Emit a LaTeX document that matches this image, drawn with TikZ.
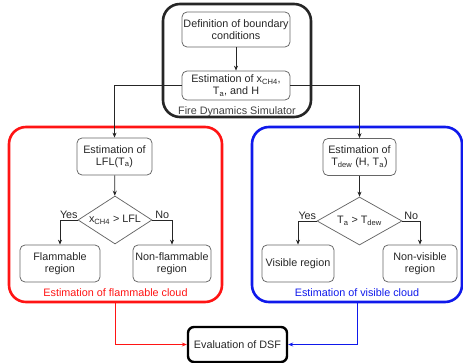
\documentclass[tikz,border=0pt]{standalone}
\usepackage{fontspec}
\setmainfont{Liberation Sans}
\usetikzlibrary{positioning,shapes.geometric,arrows.meta}
\definecolor{flamred}{RGB}{255,20,20}
\definecolor{visblue}{RGB}{15,25,235}

\begin{document}
\begin{tikzpicture}[x=1pt,y=-1pt,align=center,font=\fontsize{10.8}{12}\selectfont,
	conn/.style={-{Stealth[length=5pt,width=4pt]},line width=0.7pt,black!85},
	box/.style={rectangle,rounded corners=5pt,draw=black!60,line width=0.75pt,text=black!85,inner sep=1pt,minimum height=37pt},
	dec/.style={diamond,draw=black!60,line width=0.75pt,text=black!85,inner sep=0pt,minimum height=48pt},
	group/.style={rectangle,rounded corners=17pt,line width=2.6pt}]
\useasboundingbox (0,0) rectangle (463,363);
% groups
\node[group,draw=black!85,minimum width=148pt,minimum height=113pt](fds) at (237,60.5){};
\node[group,draw=flamred,minimum width=213pt,minimum height=175pt](flamgrp) at (115.5,214.5){};
\node[group,draw=visblue,minimum width=210pt,minimum height=175pt](visgrp) at (357,214.5){};
\node[text=black!75](fdslbl) at (237,111.5){Fire Dynamics Simulator};
\node[text=flamred](flamlbl) at (115.5,293){Estimation of flammable cloud};
\node[text=visblue](vislbl) at (357,293){Estimation of visible cloud};
% fds
\node[box,minimum width=108pt,minimum height=35pt](bc) at (236,29.5){Definition of boundary\\conditions};
\node[box,minimum width=108pt,minimum height=29pt](est) at (236,85.5){Estimation of x\textsubscript{CH4},\\T\textsubscript{a}, and H};
% flammable cloud
\node[box,minimum width=75pt](lfl) at (114.5,156.5){Estimation of\\LFL(T\textsubscript{a})};
\node[dec,minimum width=74pt](flamtest) at (115,220){\makebox[0pt]{x\textsubscript{CH4} > LFL}};
\node[box,minimum width=80pt](flam) at (60,263.5){Flammable\\region};
\node[box,minimum width=78pt](nonflam) at (172,263.5){Non-flammable\\region};
% visible cloud
\node[box,minimum width=73pt](tdew) at (359.5,157){Estimation of\\T\textsubscript{dew} (H, T\textsubscript{a})};
\node[dec,minimum width=85pt](vistest) at (359.5,221){\makebox[0pt]{T\textsubscript{a} > T\textsubscript{dew}}};
\node[box,minimum width=72pt](vis) at (298,263.5){Visible region};
\node[box,minimum width=74pt](nonvis) at (420,263.5){Non-visible\\region};
% result
\node[box,draw=black,line width=2.4pt,rounded corners=6pt,minimum width=99pt,minimum height=35pt](dsf) at (237.5,344.5){Evaluation of DSF};
\draw[conn](bc) -- (est);
\draw[conn](est.west) -| (lfl.north);
\draw[conn](est.east) -| (tdew.north);
\draw[conn](lfl) -- (flamtest);
\draw[conn](flamtest.west) -| node[pos=0.25,above,inner sep=1pt]{Yes} (flam.north);
\draw[conn](flamtest.east) -| node[pos=0.25,above,inner sep=1pt]{No} (nonflam.north);
\draw[conn](tdew) -- (vistest);
\draw[conn](vistest.west) -| node[pos=0.25,above,inner sep=1pt]{Yes} (vis.north);
\draw[conn](vistest.east) -| node[pos=0.25,above,inner sep=1pt]{No} (nonvis.north);
\draw[conn,flamred](flamgrp.south) |- (dsf.west);
\draw[conn,visblue](visgrp.south) |- (dsf.east);
\end{tikzpicture}
\end{document}
